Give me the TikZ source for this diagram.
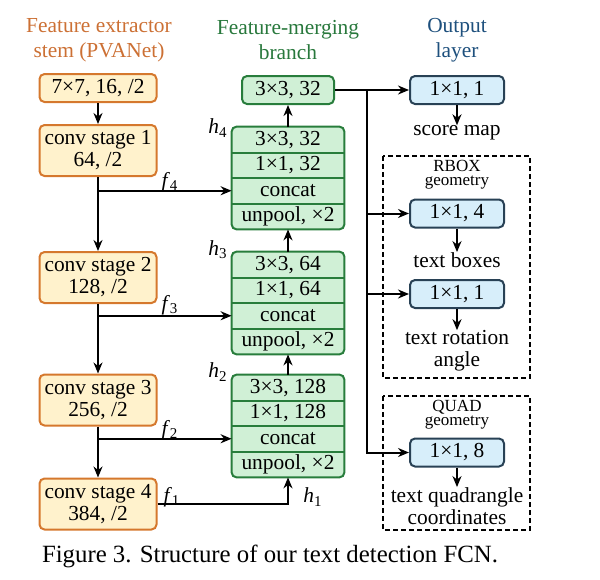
\documentclass[tikz,border=0pt]{standalone}
\usepackage{fontspec}
\setmainfont{Liberation Serif}
\usetikzlibrary{arrows.meta,backgrounds}

\definecolor{stemline}{RGB}{213,120,45}
\definecolor{stemfill}{RGB}{255,242,204}
\definecolor{stemtext}{RGB}{204,112,52}
\definecolor{mergeline}{RGB}{40,125,60}
\definecolor{mergefill}{RGB}{208,240,214}
\definecolor{mergetext}{RGB}{40,120,60}
\definecolor{outline}{RGB}{40,65,85}
\definecolor{outfill}{RGB}{215,238,250}
\definecolor{outtext}{RGB}{30,80,125}

\tikzset{
  stembox/.style={draw=stemline, fill=stemfill, line width=1pt, rounded corners=2.5pt,
    minimum width=58.5pt, inner sep=0pt, align=center},
  mergerow/.style={minimum width=56pt, minimum height=12.75pt, inner sep=0pt},
  mergeblock/.style={draw=mergeline, fill=mergefill, line width=1pt, rounded corners=2.5pt},
  mergesep/.style={draw=mergeline, line width=1pt},
  outbox/.style={draw=outline, fill=outfill, line width=1pt, rounded corners=2.5pt,
    minimum width=47pt, minimum height=14pt, inner sep=0pt},
  flow/.style={line width=1pt, -{Stealth[length=5.5pt,width=4.5pt]}},
  geobox/.style={draw, dash pattern=on 2.5pt off 1.5pt, line width=0.7pt},
  lbl/.style={inner sep=0pt, align=center},
  small/.style={inner sep=0pt, align=center, font=\fontsize{8.5}{7}\selectfont}
}

\begin{document}
\begin{tikzpicture}[x=0.5pt, y=-0.5pt, font=\fontsize{10.7}{11}\selectfont]
				\useasboundingbox (0,0) rectangle (600,579);
				
				% titles
				\node[lbl, text=stemtext] (ttlstem) at (99,40) {Feature extractor\\[1.5pt]stem (PVANet)};
				\node[lbl, text=mergetext] (ttlmerge) at (288,40) {Feature-merging\\[1.5pt]branch};
				\node[lbl, text=outtext] (ttlout) at (457,40) {Output\\[1.5pt]layer};
				
				% feature extractor stem
				\node[stembox, minimum height=14pt] (stem) at (98,88) {7×7, 16, /2};
				\node[stembox, minimum height=25.5pt] (conv1) at (98,150.5) {conv stage 1\\64, /2};
				\node[stembox, minimum height=25.5pt] (conv2) at (98,277.5) {conv stage 2\\128, /2};
				\node[stembox, minimum height=25.5pt] (conv3) at (98,400) {conv stage 3\\256, /2};
				\node[stembox, minimum height=25.5pt] (conv4) at (98,504) {conv stage 4\\384, /2};
				
				\draw[flow] (stem) -- (conv1);
				\draw[flow] (conv1) -- (conv2);
				\draw[flow] (conv2) -- (conv3);
				\draw[flow] (conv3) -- (conv4);
				
				% feature-merging branch
				\node[mergerow] (hfa) at (288,139.75) {3×3, 32};
				\node[mergerow] (hfb) at (288,165.25) {1×1, 32};
				\node[mergerow] (hfc) at (288,190.75) {concat};
				\node[mergerow] (hfd) at (288,216.25) {unpool, ×2};
				
				\node[mergerow] (hta) at (288,264.75) {3×3, 64};
				\node[mergerow] (htb) at (288,290.25) {1×1, 64};
				\node[mergerow] (htc) at (288,315.75) {concat};
				\node[mergerow] (htd) at (288,341.25) {unpool, ×2};
				
				\node[mergerow] (hsa) at (288,387.75) {3×3, 128};
				\node[mergerow] (hsb) at (288,413.25) {1×1, 128};
				\node[mergerow] (hsc) at (288,438.75) {concat};
				\node[mergerow] (hsd) at (288,464.25) {unpool, ×2};
				
				\begin{scope}[on background layer]
					\draw[mergeblock] (hfa.north west) rectangle (hfd.south east);
					\draw[mergeblock] (hta.north west) rectangle (htd.south east);
					\draw[mergeblock] (hsa.north west) rectangle (hsd.south east);
				\end{scope}
				\draw[mergesep] (hfa.south west) -- (hfa.south east);
				\draw[mergesep] (hfb.south west) -- (hfb.south east);
				\draw[mergesep] (hfc.south west) -- (hfc.south east);
				\draw[mergesep] (hta.south west) -- (hta.south east);
				\draw[mergesep] (htb.south west) -- (htb.south east);
				\draw[mergesep] (htc.south west) -- (htc.south east);
				\draw[mergesep] (hsa.south west) -- (hsa.south east);
				\draw[mergesep] (hsb.south west) -- (hsb.south east);
				\draw[mergesep] (hsc.south west) -- (hsc.south east);
				
				\node[draw=mergeline, fill=mergefill, line width=1pt, rounded corners=2.5pt,
					minimum width=46pt, minimum height=14pt, inner sep=0pt] (last) at (288,90) {3×3, 32};
				
				\draw[flow] (hfa) -- (last);
				\draw[flow] (hta) -- (hfd);
				\draw[flow] (hsa) -- (htd);
				
				% skip connections
				\draw[flow] (conv1.south |- hfc.west) -- (hfc.west);
				\draw[flow] (conv2.south |- htc.west) -- (htc.west);
				\draw[flow] (conv3.south |- hsc.west) -- (hsc.west);
				\draw[flow] (conv4.east) -| (hsd.south);
				
				\node[lbl] (f4) at (170,182) {\textit{f}\textsubscript{4}};
				\node[lbl] (f3) at (170,305) {\textit{f}\textsubscript{3}};
				\node[lbl] (f2) at (170,430) {\textit{f}\textsubscript{2}};
				\node[lbl] (f1) at (172,497) {\textit{f}\textsubscript{1}};
				\node[lbl] (h4) at (218,128) {\textit{h}\textsubscript{4}};
				\node[lbl] (h3) at (218,250) {\textit{h}\textsubscript{3}};
				\node[lbl] (h2) at (218,372) {\textit{h}\textsubscript{2}};
				\node[lbl] (h1) at (313,497) {\textit{h}\textsubscript{1}};
				
				% output layer
				\draw[geobox] (383,156) rectangle (530,378);
				\draw[geobox] (383,396) rectangle (530,530);
				\node[small] (rbox) at (457,175) {RBOX\\geometry};
				\node[small] (quad) at (457,415) {QUAD\\geometry};
				
				\node[outbox] (score) at (457,90) {1×1, 1};
				\node[outbox] (boxes) at (457,213.5) {1×1, 4};
				\node[outbox] (angle) at (457,294) {1×1, 1};
				\node[outbox] (quads) at (457,452.5) {1×1, 8};
				
				\node[lbl] (scoretxt) at (457,133) {score map};
				\node[lbl] (boxestxt) at (457,260) {text boxes};
				\node[lbl] (angletxt) at (457,351) {text rotation\\angle};
				\node[lbl] (quadstxt) at (457,506) {text quadrangle\\coordinates};
				
				\coordinate (bus) at (367,90);
				\draw[flow] (last.east) -- (score.west);
				\draw[flow] (bus) |- (quads.west);
				\draw[flow] (bus |- boxes.west) -- (boxes.west);
				\draw[flow] (bus |- angle.west) -- (angle.west);
				
				\draw[flow] (score) -- (scoretxt);
				\draw[flow] (boxes) -- (boxestxt);
				\draw[flow] (angle) -- (angletxt);
				\draw[flow] (quads) -- (quadstxt);
				
				% caption
				\node[lbl, font=\fontsize{12.4}{14}\selectfont] (caption) at (270,556) {Figure 3. Structure of our text detection FCN.};
			\end{tikzpicture}
\end{document}
